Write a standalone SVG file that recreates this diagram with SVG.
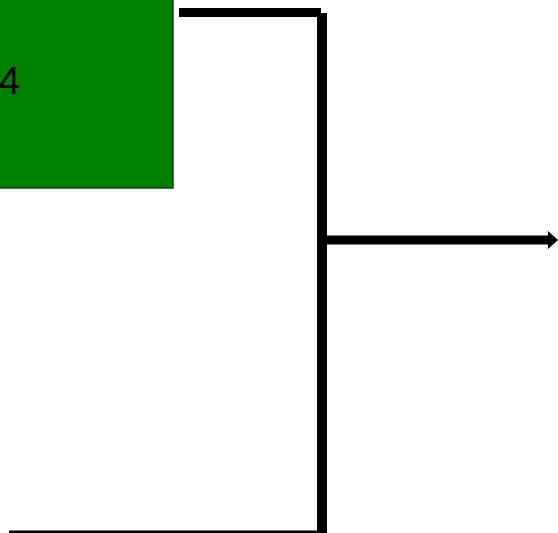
<svg xmlns="http://www.w3.org/2000/svg" width="558" height="533" viewBox="0 0 558 533">
<style>
.conn{fill:none;stroke:#000;stroke-linejoin:miter;stroke-linecap:butt}
.lbl{font-family:"Liberation Sans",Arial,sans-serif;font-size:39px;fill:#000}
</style>
<defs>
<marker id="arr" markerUnits="userSpaceOnUse" markerWidth="12" markerHeight="18" refX="1" refY="9" orient="auto">
<path d="M0,0 L10,9 L0,18 Z" fill="#000"/>
</marker>
</defs>
<rect width="558" height="533" fill="#fff"/>
<g id="node-box">
<rect x="-2" y="-2" width="175" height="190" fill="#008000" stroke="#1a3a1a" stroke-width="1.5"/>
<text class="lbl" x="-1.5" y="94">4</text>
</g>
<g id="connectors">
<path class="conn" d="M179,12.5 H321" stroke-width="9"/>
<path class="conn" d="M322,13 V533" stroke-width="10"/>
<path class="conn" d="M327,240 H549" stroke-width="9" marker-end="url(#arr)"/>
<path class="conn" d="M9,532 H318" stroke-width="3"/>
</g>
</svg>
